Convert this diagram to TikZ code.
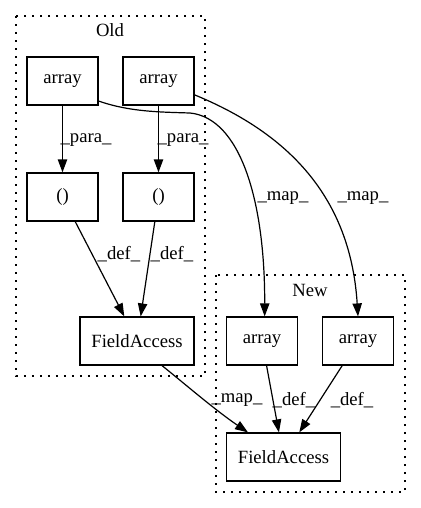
\documentclass[tikz,border=0pt]{standalone}
\usepackage{fontspec}
\setmainfont{Liberation Serif}
\usetikzlibrary{arrows.meta}
\begin{document}
\begin{tikzpicture}[x=0.75pt,y=-0.75pt,
  font=\fontsize{14}{16}\selectfont,
  box/.style={draw,line width=0.9pt,rectangle,inner sep=0pt,minimum width=53.25pt,minimum height=36pt},
  wbox/.style={box,minimum width=85.5pt},
  cluster/.style={draw,line width=1pt,dash pattern=on 1.2pt off 4.8pt},
  edge/.style={draw,line width=0.9pt,-{Triangle[length=9.75pt,width=7pt]}},
  lbl/.style={inner sep=0pt}]
\useasboundingbox (0,0) rectangle (421,508);
% clusters
\draw[cluster] (16,16) rectangle (205,376);
\draw[cluster] (216,275) rectangle (405,492);
\node[lbl] (oldlbl) at (110,30) {Old};
\node[lbl] (newlbl) at (310,290) {New};
% nodes
\node[box] (oa1) at (62.5,81) {array};
\node[box] (oa2) at (158.5,81) {array};
\node[box] (op1) at (62.5,197) {()};
\node[box] (op2) at (158.5,197) {()};
\node[wbox] (ofa) at (137,341) {FieldAccess};
\node[box] (na1) at (262,341) {array};
\node[box] (na2) at (358,341) {array};
\node[wbox] (nfa) at (283.5,457) {FieldAccess};
% edges
\draw[edge] (oa1) -- (op1);
\draw[edge] (oa2) -- (op2);
\draw[edge] (op1) -- (ofa);
\draw[edge] (op2) -- (ofa);
\draw[edge] (oa1.-29) .. controls (130,112) and (160,112) .. (190,113) .. controls (240,118) and (265,200) .. ([xshift=2pt]na1.north);
\draw[edge] (oa2.-21) .. controls (280,130) and (350,190) .. (na2.north);
\draw[edge] ([xshift=18.75pt]ofa.south) .. controls (185,384) and (215,410) .. ([xshift=-26.6pt]nfa.north);
\draw[edge] (na1) -- (nfa);
\draw[edge] (na2) -- (nfa);
% labels
\node[lbl] (l1) at (86,140) {\_para\_};
\node[lbl] (l2) at (183,140) {\_para\_};
\node[lbl] (l3) at (283,198) {\_map\_};
\node[lbl] (l4) at (363,198) {\_map\_};
\node[lbl] (l5) at (119,254) {\_def\_};
\node[lbl] (l6) at (172,254) {\_def\_};
\node[lbl] (l7) at (237,400) {\_map\_};
\node[lbl] (l8) at (294,400) {\_def\_};
\node[lbl] (l9) at (352,400) {\_def\_};
\end{tikzpicture}
\end{document}
